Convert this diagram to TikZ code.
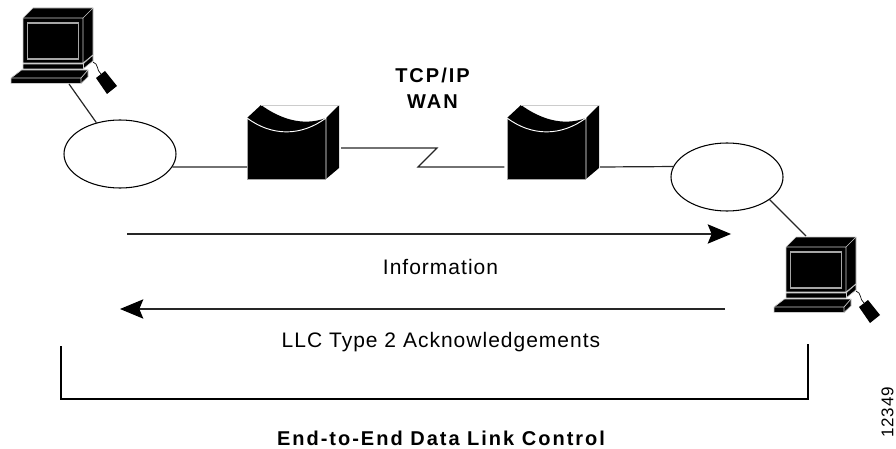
\documentclass[tikz,border=0pt]{standalone}
\usepackage{fontspec}
\setmainfont{Liberation Sans}[LetterSpace=10]
\newfontfamily\plainfont{Liberation Sans}[LetterSpace=4.8]
\usetikzlibrary{arrows.meta}
\usetikzlibrary{shapes.geometric}
\newcommand{\widthlan}{84pt}
\newcommand{\heightlan}{51pt}
\tikzset{
    lan/.style={draw, ellipse, line width=0.8pt, minimum width=\widthlan, minimum height=\heightlan, inner sep=0pt},
    wire/.style={line width=0.9pt, black!85},
    flow/.style={wire, -{Stealth[length=17.5pt, width=14.5pt, inset=3pt, black]}},
    bracket/.style={line width=1.9pt, line cap=butt, line join=miter},
    title/.style={font=\fontsize{15}{19.5}\selectfont\bfseries, align=center},
    caption/.style={font=\plainfont\fontsize{15.75}{18}\selectfont},
    face/.style={fill=black, draw=black!20, line width=0.5pt, line join=round},
    pc/.pic={
        \path[face] (0,0) -- (10,-10) -- (70,-10) -- (70,37) -- (60,45) -- (0,45) -- cycle;
        \draw[black!20, line width=0.5pt] (0,0) -- (60,0) -- (70,-10) (60,0) -- (60,45);
        \draw[black!35, line width=0.8pt] (4.5,5) rectangle (55.5,41);
        \path[face] (0,46) -- (60,46) -- (70,37) -- (70,43) -- (60,51) -- (0,51) -- cycle;
        \draw[black!20, line width=0.5pt] (60,46) -- (60,51);
        \path[face] (-12,60) -- (-1.5,52) -- (65,52) -- (65,59) -- (58,65.5) -- (-12,65.5) -- cycle;
        \draw[black!20, line width=0.5pt] (-12,60) -- (58,60) -- (65,52) (58,60) -- (58,65.5);
        \fill (73,60) -- (82,53) -- (94,68) -- (84,76) -- cycle;
        \draw[line width=0.5pt] (70,44) .. controls (76,46) and (73,52) .. (78,56);
        \coordinate (-north) at (20,-11);
        \coordinate (-south) at (46,66);
    },
    router/.pic={
        \path[face, draw=none] (0,0) -- (14,-13) .. controls (32,0) and (55,9) .. (79,0) -- (92,-13) -- (92,50) -- (79,61) -- (0,61) -- cycle;
        \draw[black!20, line width=0.6pt] (14,-13) -- (92,-13);
        \draw[black!35, line width=0.6pt] (0,0) -- (0,61) -- (79,61);
        \draw[white, line width=0.7pt] (0,0) .. controls (25,18.5) and (54,18.5) .. (79,0) -- (79,61);
        \coordinate (-west) at (0,49);
        \coordinate (-east) at (93,49);
        \coordinate (-high) at (94,30);
    }
}
\begin{document}
\begin{tikzpicture}[x=0.75pt, y=-0.75pt]
    \useasboundingbox (0,0) rectangle (896,449);

    \path
        (23,18) pic (pcA) {pc}
        to ++(97,136) node[lan] (lanA) {}
        to ++(127,-36) pic (routerA) {router}
        to ++(260,0) pic (routerB) {router}
        to ++(220,59) node[lan] (lanB) {}
        to ++(59,70) pic (pcB) {pc};

    \draw[wire] (lanA.127) -- (pcA-south);
    \draw[wire] (lanA.-14) -- (routerA-west);
    \draw[wire] (routerB-east) -- (lanB.169.4);
    \draw[wire] (lanB.-28) -- (pcB-north);

    \coordinate (zigTop) at (437,148);
    \coordinate (zigBot) at (418,167);
    \draw[wire, shorten >=2pt] (routerA-high) -- (zigTop) -- (zigBot) -- (routerB-west);
    \node[title] (wan) at (432.5,88) {TCP/IP\\WAN};

    \coordinate (infoL) at (127,234);
    \coordinate (infoR) at (731,234);
    \coordinate (ackR) at (725,309);
    \coordinate (ackL) at (120,309);
    \draw[flow] (infoL) -- (infoR);
    \node[caption] (info) at (440.5,267) {Information};
    \draw[flow] (ackR) -- (ackL);
    \node[caption] (ack) at (441,342) {LLC Type 2 Acknowledgements};

    \coordinate (spanA) at (61,346);
    \coordinate (spanB) at (61,399);
    \coordinate (spanC) at (808,399);
    \coordinate (spanD) at (808,343.5);
    \draw[bracket] (spanA) -- (spanB) -- (spanC) -- (spanD);
    \node[title] (link) at (441,438.5) {End-to-End Data Link Control};

    \node[font=\plainfont\fontsize{12.75}{15}\selectfont, rotate=90] (tag) at (887.5,412.5) {12349};
\end{tikzpicture}
\end{document}
